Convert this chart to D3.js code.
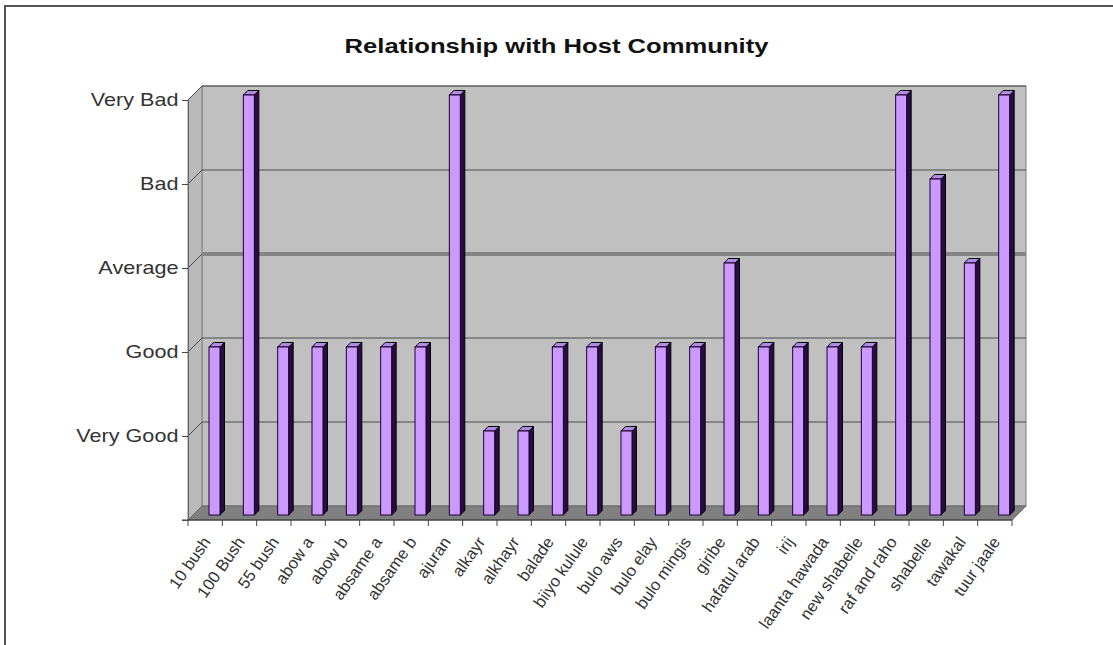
<!DOCTYPE html>
<html lang="en">
<head>
<meta charset="utf-8">
<title>Relationship with Host Community</title>
<script src="https://d3js.org/d3.v7.min.js"></script>
<style>
  body { margin: 0; background: #fff; }
  text { font-family: "Liberation Sans", Arial, sans-serif; }
</style>
</head>
<body>
<script>
// categories (sites) and their answers, 1 = Very Good ... 5 = Very Bad
const sites = ["10 bush", "100 Bush", "55 bush", "abow a", "abow b", "absame a", "absame b",
  "ajuran", "alkayr", "alkhayr", "balade", "biiyo kulule", "bulo aws", "bulo elay",
  "bulo mingis", "giribe", "hafatul arab", "irij", "laanta hawada", "new shabelle",
  "raf and raho", "shabelle", "tawakal", "tuur jaale"];
const relation = [2, 5, 2, 2, 2, 2, 2, 5, 1, 1, 2, 2, 1, 2, 2, 3, 2, 2, 2, 2, 5, 4, 3, 5];
const ratingTicks = [1, 2, 3, 4, 5];
const ratingLabels = ["Very Good", "Good", "Average", "Bad", "Very Bad"];

const W = 1113, H = 645;
const pLeft = 188, pRight = 1012, pBase = 520, pTop = 100;
const dx = 14, dy = -14;   // depth of the 3d box
const bd = 5, bw = 4.5;    // bar offset into depth, bar depth

const svg = d3.select("body").append("svg")
  .attr("width", W).attr("height", H);

// outer frame (runs off the picture right and bottom)
svg.append("rect").attr("x", 5).attr("y", 6).attr("width", W + 20).attr("height", H + 20)
  .attr("fill", "#fff").attr("stroke", "#555").attr("stroke-width", 2);

const x = d3.scaleBand().domain(sites).range([pLeft, pRight]);
const y = d3.scaleLinear().domain([0, 5]).range([pBase, pTop]);

// back wall
svg.append("rect")
  .attr("x", pLeft + dx).attr("y", pTop + dy)
  .attr("width", pRight - pLeft).attr("height", pBase - pTop)
  .attr("fill", "#c0c0c0").attr("stroke", "#808080");

// side wall
svg.append("polygon")
  .attr("points", [[pLeft, pTop], [pLeft + dx, pTop + dy], [pLeft + dx, pBase + dy], [pLeft, pBase]].join(" "))
  .attr("fill", "#b9b9b9").attr("stroke", "#808080");

// gridlines on back wall and side wall
svg.selectAll(".grid").data(ratingTicks).enter().append("line")
  .attr("x1", pLeft + dx).attr("x2", pRight + dx)
  .attr("y1", d => y(d) + dy).attr("y2", d => y(d) + dy)
  .attr("stroke", d => d === 3 ? "#858585" : "#4a4a4a")
  .attr("stroke-width", d => d === 3 ? 4 : 1);
svg.selectAll(".sgrid").data(ratingTicks).enter().append("line")
  .attr("x1", pLeft).attr("x2", pLeft + dx)
  .attr("y1", d => y(d)).attr("y2", d => y(d) + dy)
  .attr("stroke", "#4a4a4a");

// floor
svg.append("polygon")
  .attr("points", [[pLeft, pBase], [pRight, pBase], [pRight + dx, pBase + dy], [pLeft + dx, pBase + dy]].join(" "))
  .attr("fill", "#808080").attr("stroke", "#666");

// bars
const bars = svg.selectAll(".bar").data(sites.map((s, i) => ({ s, v: relation[i] })))
  .enter().append("g");
const bx = d => x(d.s) + 21;
const bwid = 11;
const btop = d => y(d.v) - bd;
const bbot = pBase - bd;
bars.append("polygon")
  .attr("points", d => [[bx(d) + bwid, btop(d)], [bx(d) + bwid + bw, btop(d) - bw],
    [bx(d) + bwid + bw, bbot - bw], [bx(d) + bwid, bbot]].join(" "))
  .attr("fill", "#2a0c44").attr("stroke", "#000");
bars.append("polygon")
  .attr("points", d => [[bx(d), btop(d)], [bx(d) + bw, btop(d) - bw],
    [bx(d) + bwid + bw, btop(d) - bw], [bx(d) + bwid, btop(d)]].join(" "))
  .attr("fill", "#b58ae6").attr("stroke", "#000");
bars.append("rect")
  .attr("x", bx).attr("y", btop)
  .attr("width", bwid).attr("height", d => bbot - btop(d))
  .attr("fill", "#cc99ff").attr("stroke", "#1a0033");

// y axis
const yAxis = svg.append("g").attr("transform", `translate(${pLeft},0)`)
  .call(d3.axisLeft(y).tickValues(ratingTicks)
    .tickFormat((d, i) => ratingLabels[i]).tickSizeOuter(0).tickSize(6));
yAxis.select(".domain").attr("stroke", "#666");
yAxis.selectAll(".tick line").attr("stroke", "#444");
yAxis.selectAll(".tick text")
  .attr("font-size", 18).attr("fill", "#333")
  .attr("font-family", "Liberation Sans, Arial, sans-serif")
  .attr("x", -8).attr("transform", "scale(1.2,1)");

// x axis baseline and boundary ticks
svg.append("line").attr("x1", pLeft - 6).attr("x2", pRight).attr("y1", pBase).attr("y2", pBase)
  .attr("stroke", "#333");
svg.selectAll(".xt").data(d3.range(sites.length + 1)).enter().append("line")
  .attr("x1", i => pLeft + i * x.step()).attr("x2", i => pLeft + i * x.step())
  .attr("y1", pBase).attr("y2", pBase + 6).attr("stroke", "#444");

const xAxis = svg.append("g").attr("transform", `translate(0,${pBase})`)
  .call(d3.axisBottom(x).tickSize(0));
xAxis.select(".domain").remove();
xAxis.selectAll(".tick text")
  .attr("font-size", 16.5).attr("fill", "#333")
  .attr("font-family", "Liberation Sans, Arial, sans-serif")
  .attr("x", 0).attr("y", 0).attr("dy", 0)
  .attr("text-anchor", "end")
  .attr("transform", "translate(6,22) rotate(-55)");

// title
svg.append("text")
  .attr("transform", `translate(${W / 2},53) scale(1.28,1)`)
  .attr("text-anchor", "middle")
  .attr("font-size", 20).attr("font-weight", "bold").attr("fill", "#111")
  .text("Relationship with Host Community");
</script>
</body>
</html>
